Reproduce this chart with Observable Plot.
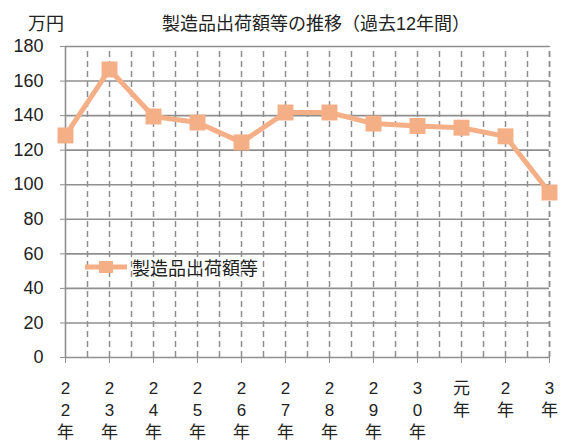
<!DOCTYPE html>
<html>
<head>
<meta charset="utf-8">
<script src="https://cdn.jsdelivr.net/npm/d3@7"></script>
<script src="https://cdn.jsdelivr.net/npm/@observablehq/plot@0.6"></script>
<style>
  body { margin: 0; background: #fff; }
  #wrap { position: relative; width: 561px; height: 442px; font-family: "Liberation Sans", "Noto Sans CJK JP", sans-serif; color: #222; }
  #head { position: relative; height: 36px; }
  #unit { position: absolute; left: 28px; top: 13px; font-size: 18px; line-height: 22px; }
  #title { position: absolute; left: 0; width: 632px; text-align: center; top: 13px; font-size: 18px; line-height: 22px; }
  #legend { position: absolute; left: 85px; top: 254px; display: flex; align-items: center; font-size: 18px; }
  #legend svg { display: block; margin-right: 3px; }
</style>
</head>
<body>
<div id="wrap">
  <div id="head"><span id="unit">万円</span><div id="title">製造品出荷額等の推移（過去12年間）</div></div>
  <div id="chart"></div>
  <div id="legend"></div>
</div>
<script>
const seriesName = "製造品出荷額等";
const years = ["22年","23年","24年","25年","26年","27年","28年","29年","30年","元年","2年","3年"];
const values = [128.5, 166.7, 139.5, 136, 124.5, 141.8, 141.8, 135.4, 134, 133, 128, 95.5];
const yTicks = [0, 20, 40, 60, 80, 100, 120, 140, 160, 180];
const color = "#F5AF87";
const grid = "#8f8f8f";

const data = years.map((y, i) => ({i, year: y, v: values[i]}));
const xGrid = d3.range(0, years.length - 0.5, 0.5).concat([years.length - 1]);

const chart = Plot.plot({
  width: 561,
  height: 406,
  marginLeft: 65,
  marginRight: 12,
  marginTop: 10,
  marginBottom: 85,
  style: {fontFamily: '"Liberation Sans", "Noto Sans CJK JP", sans-serif', background: "#fff"},
  x: {type: "linear", domain: [0, years.length - 1]},
  y: {domain: [0, 180]},
  marks: [
    Plot.ruleX(xGrid.slice(1), {y1: 0, y2: 180, stroke: grid, strokeWidth: 1.5, strokeDasharray: "6,4"}),
    Plot.ruleY(yTicks, {stroke: grid, strokeWidth: 1.6}),
    Plot.ruleX([0], {y1: 0, y2: 180, stroke: grid, strokeWidth: 1.6}),
    Plot.axisY({ticks: yTicks, tickSize: 5, tickPadding: 17, fontSize: 18, color: "#222", stroke: grid, label: null}),
    Plot.axisX({ticks: d3.range(years.length), tickFormat: i => years[i].split("").join("\n"),
      tickSize: 6, tickPadding: 15, fontSize: 17, lineHeight: 1.3, color: "#222", stroke: grid, label: null}),
    Plot.line(data, {x: "i", y: "v", stroke: color, strokeWidth: 5}),
    Plot.dot(data, {x: "i", y: "v", symbol: "square", r: 9, fill: color, stroke: "none"})
  ]
});
document.getElementById("chart").appendChild(chart);

document.getElementById("legend").innerHTML =
  `<svg width="44" height="20"><line x1="0" y1="10" x2="42" y2="10" stroke="${color}" stroke-width="5"/><rect x="14" y="4" width="14" height="12" fill="${color}"/></svg><span>${seriesName}</span>`;
</script>
</body>
</html>
